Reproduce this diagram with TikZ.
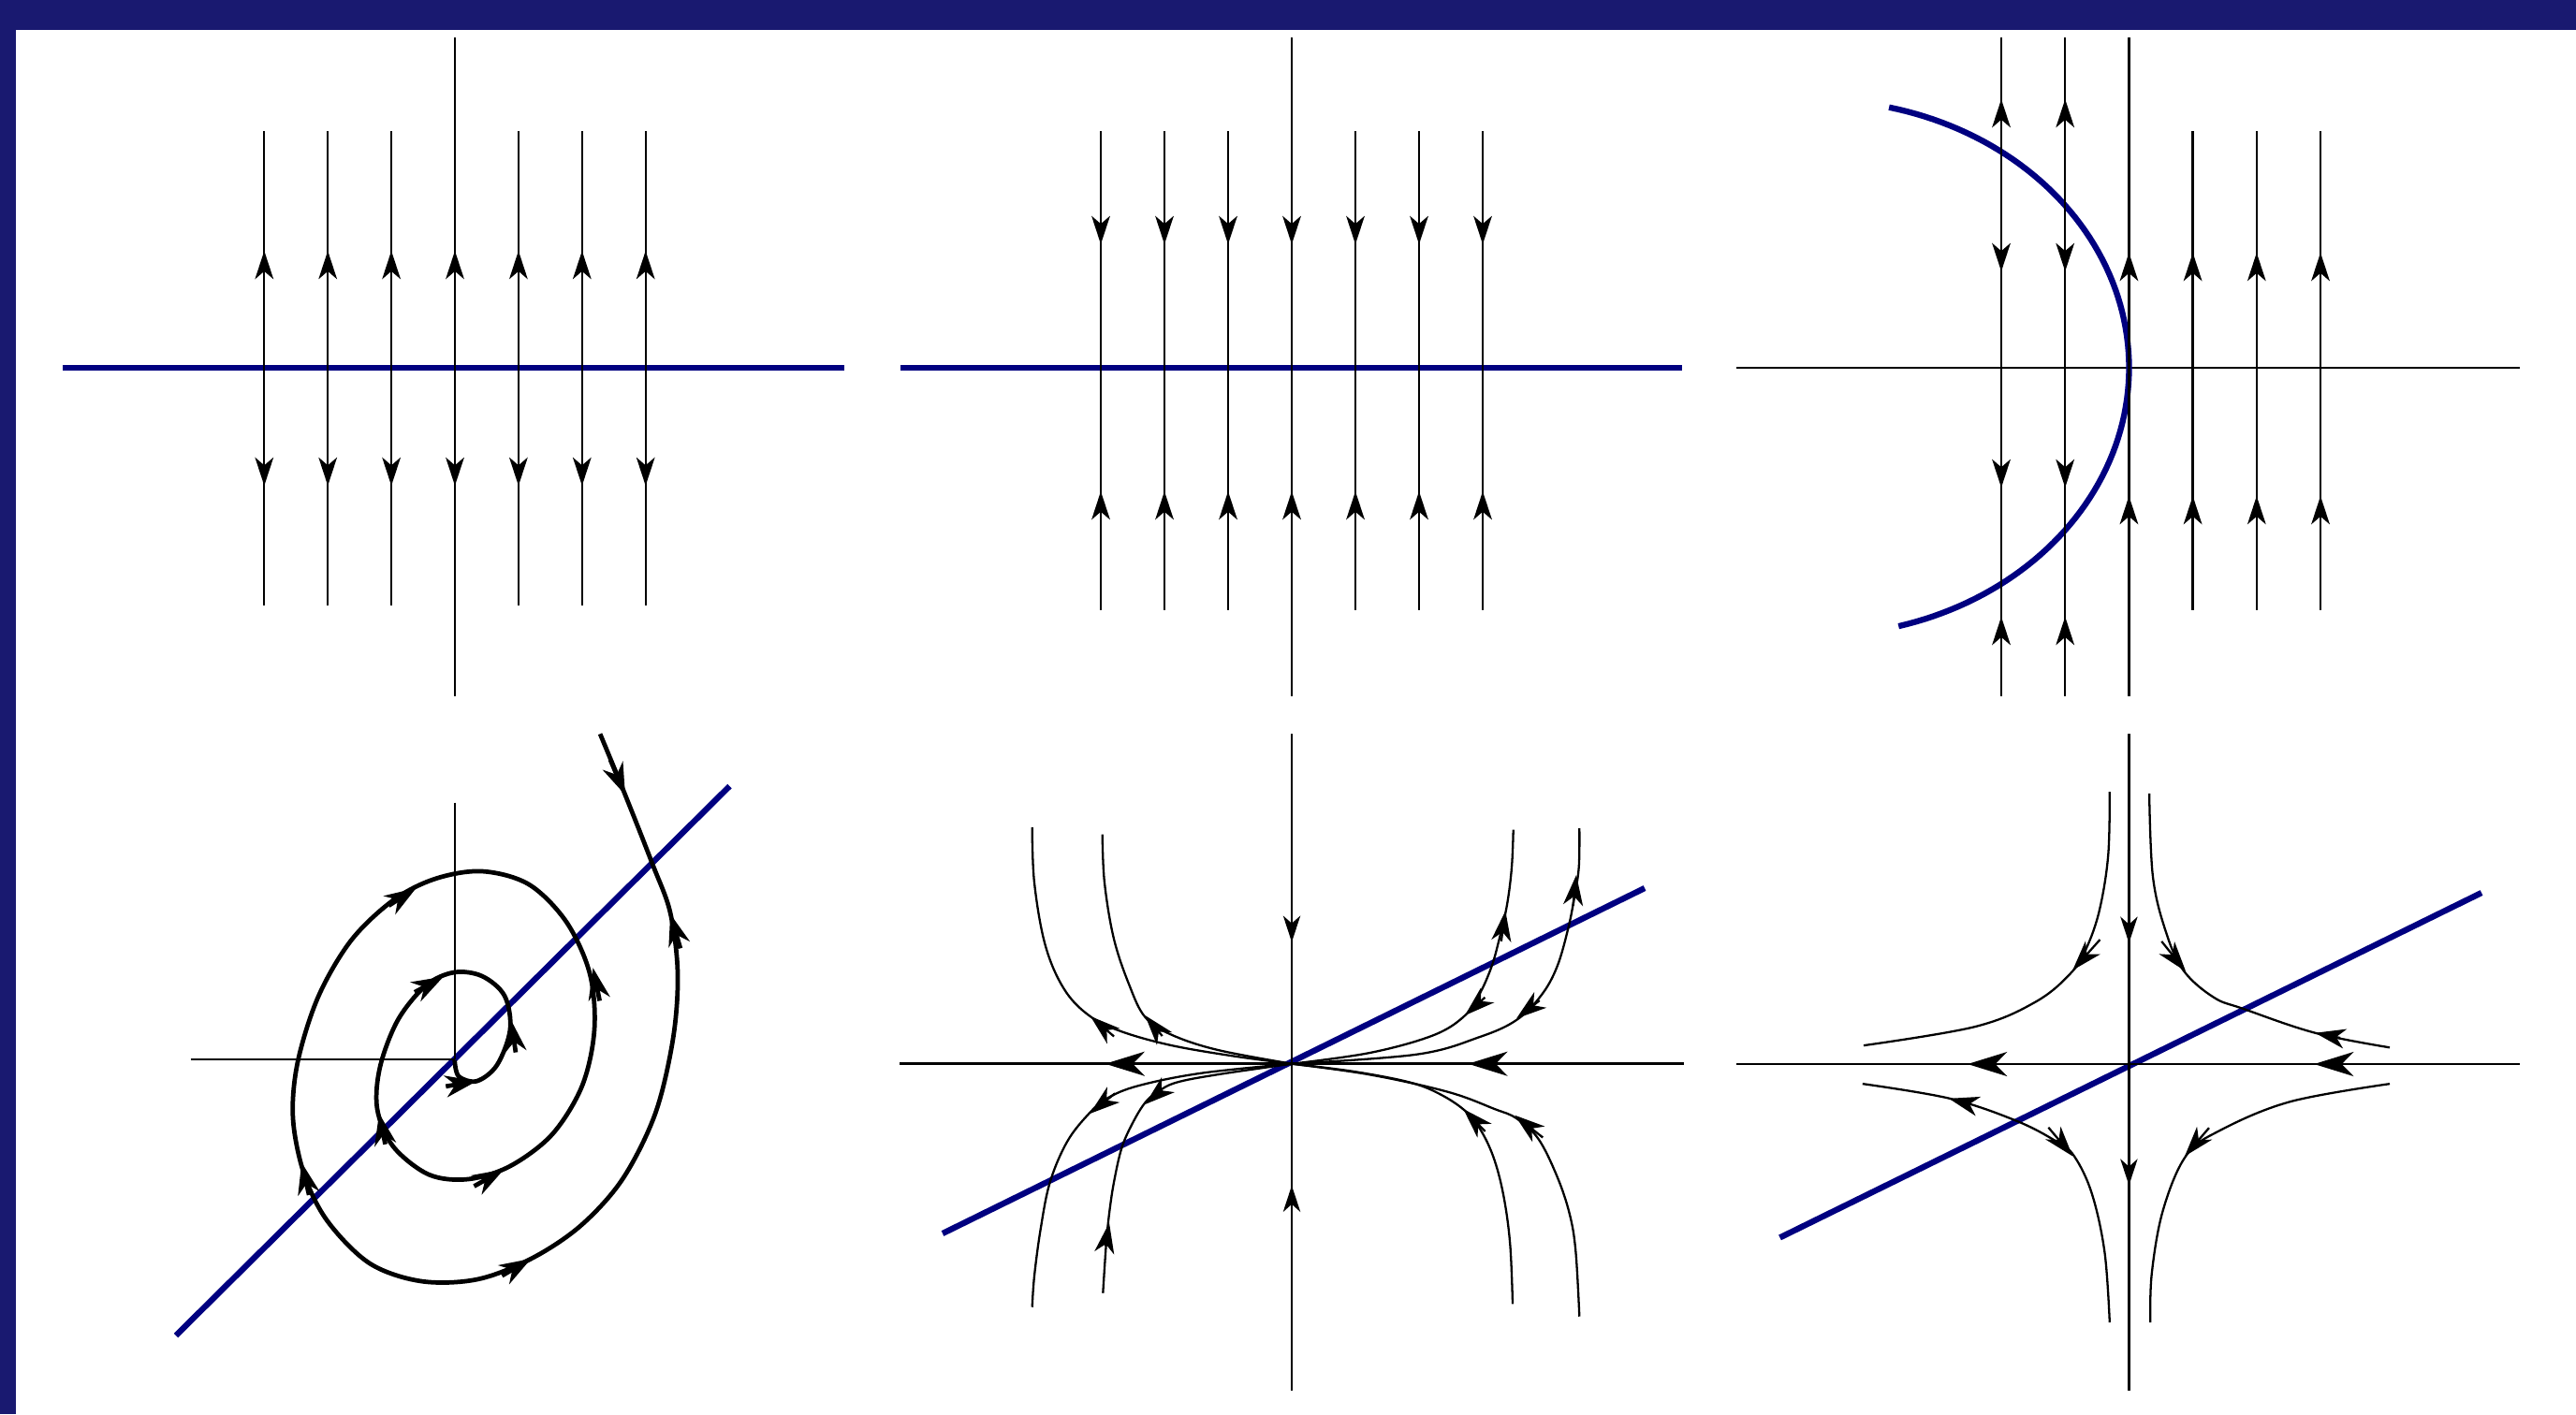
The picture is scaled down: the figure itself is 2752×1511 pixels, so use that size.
\documentclass[tikz,border=0pt]{standalone}
\usetikzlibrary{arrows.meta,calc}
\definecolor{frameblue}{RGB}{25,25,112}
\definecolor{lineblue}{RGB}{0,0,128}
\tikzset{
  traj/.style={line width=0.65pt, black},
  axisl/.style={line width=0.75pt, black},
  bluel/.style={line width=1.8pt, lineblue},
  spiral/.style={line width=1.35pt, black},
  arrA/.style={line width=0.65pt, -{Stealth[length=8.6pt,width=5.6pt,inset=2.4pt]}},
  arrV/.style={line width=0.75pt, -{Stealth[length=8pt,width=5.2pt,inset=2.3pt]}},
  arrH/.style={line width=0.75pt, -{Stealth[length=12pt,width=7.4pt,inset=3.6pt]}},
  arrC/.style={line width=0.65pt, -{Stealth[length=9.2pt,width=6pt,inset=2.7pt]}},
  arrS/.style={line width=1.35pt, -{Stealth[length=9.6pt,width=6.6pt,inset=3pt]}},
}
\newcommand{\headat}[3]{\draw[#1] ($(#2)-1.1*(#3)$) -- (#2);}
\begin{document}
\begin{tikzpicture}[x=0.01cm,y=-0.01cm]
\useasboundingbox (0,0) rectangle (2752,1511);
\fill[white] (0,0) rectangle (2752,1511);
\fill[frameblue] (0,0) rectangle (2752,32);
\fill[frameblue] (0,0) rectangle (17,1511);

% ---------- Panel 1 ----------
\draw[bluel] (67,393) -- (902,393);
\draw[axisl] (486,40) -- (486,744);
\foreach \k in {-3,...,3}{
  \pgfmathsetmacro\xx{486+67.9*\k}
  \draw[traj] (\xx,140) -- (\xx,647);
  \draw[arrA] (\xx,300) -- (\xx,268);
  \draw[arrA] (\xx,487) -- (\xx,519);
}

% ---------- Panel 2 ----------
\draw[bluel] (962,393) -- (1797,393);
\draw[axisl] (1380,40) -- (1380,744);
\foreach \k in {-3,...,3}{
  \pgfmathsetmacro\xx{1380+68*\k}
  \draw[traj] (\xx,140) -- (\xx,652);
  \draw[arrA] (\xx,229) -- (\xx,261);
  \draw[arrA] (\xx,557) -- (\xx,525);
}

% ---------- Panel 3 ----------
\draw[axisl] (1855,393) -- (2692,393);
\draw[bluel] plot[domain=-74.9:76.7, samples=90] ({1941.5+333*cos(\x)},{393-286*sin(\x)});
\draw[axisl] (2274.4,40) -- (2274.4,744);
\foreach \k in {-2,-1}{
  \pgfmathsetmacro\xx{2274.4+68.2*\k}
  \draw[traj] (\xx,40) -- (\xx,744);
  \draw[arrA] (\xx,138) -- (\xx,106);
  \draw[arrA] (\xx,258) -- (\xx,290);
  \draw[arrA] (\xx,489) -- (\xx,521);
  \draw[arrA] (\xx,691) -- (\xx,659);
}
\foreach \k in {0,...,3}{
  \pgfmathsetmacro\xx{2274.4+68.2*\k}
  \draw[traj] (\xx,140) -- (\xx,652);
  \draw[arrA] (\xx,302) -- (\xx,270);
  \draw[arrA] (\xx,562) -- (\xx,530);
}

% ---------- Panel 4 ----------
\draw[bluel] (188,1427) -- (779.5,840);
\draw[axisl] (486,857.7) -- (486,1132);
\draw[axisl] (203.6,1132) -- (486,1132);
\draw[spiral] plot[smooth, tension=0.55] coordinates {
 (485.7,1132.9) (490,1150) (509.4,1155.2) (531,1138) (545,1100)
 (539,1064) (515,1043) (485,1039) (455,1053) (425,1090) (406,1140)
 (403,1185) (420,1225) (458,1255) (500,1260) (545,1246) (590,1212)
 (622,1160) (635,1100) (630,1040) (605,985) (565,945) (515,931)
 (465,939) (420,962) (375,1005) (340,1065) (318,1135) (313,1195)
 (325,1255) (350,1305) (395,1350) (450,1369) (510,1367) (567.4,1345)
 (620,1310) (665,1260) (700,1190) (719,1110) (724,1040) (716,975)
 (696.9,922.9) (667.9,849.3) (641.1,784.2)};
\headat{arrS}{509.4,1155.2}{30.1,-5.1}
\headat{arrS}{546,1090.1}{-4.5,-31.3}
\headat{arrS}{473.7,1043.6}{27.9,-15.1}
\headat{arrS}{405,1189.7}{-6,-30}
\headat{arrS}{538.4,1249.5}{29,-16.4}
\headat{arrS}{633.5,1034.2}{-6.5,-32}
\headat{arrS}{444.6,948.9}{26.7,-17.1}
\headat{arrS}{322.2,1242.2}{-7.2,-31.5}
\headat{arrS}{567.4,1344.9}{28.3,-16.6}
\headat{arrS}{716.1,976.6}{-9.8,-33.4}
\headat{arrS}{667.9,849.3}{14.5,34.2}

% ---------- Panel 5 ----------
\draw[bluel] (1007,1318) -- (1757,949);
\draw[axisl] (1380,784) -- (1380,1486);
\draw[axisl] (961,1136.7) -- (1799,1136.7);
\draw[traj] plot[smooth, tension=0.6] coordinates {(1380,1136.7) (1316.7,1128.3) (1250,1116.7) (1196.7,1101.7) (1163.3,1085) (1136.7,1056.7) (1116.7,1010) (1105,943.3) (1102.7,884)};
\draw[traj] plot[smooth, tension=0.6] coordinates {(1380,1136.7) (1300,1121.7) (1250,1105) (1223.3,1086.7) (1206.7,1053.3) (1190,1003.3) (1180,943.3) (1177.7,891.7)};
\draw[traj] plot[smooth, tension=0.6] coordinates {(1380,1136.7) (1463.3,1125) (1530,1106.7) (1563.3,1086.7) (1580,1063.3) (1593.3,1033.3) (1601.7,1003.3) (1610,966.7) (1615,926.7) (1616.7,886.7)};
\draw[traj] plot[smooth, tension=0.6] coordinates {(1380,1136.7) (1513.3,1126.7) (1580,1108.3) (1620,1090) (1646.7,1063.3) (1663.3,1033.3) (1675,993.3) (1681.7,960) (1686.7,926.7) (1687.3,885)};
\draw[traj] plot[smooth, tension=0.6] coordinates {(1380,1136.7) (1283.3,1146.7) (1216.7,1160) (1183.3,1173.3) (1163.3,1190) (1140,1220) (1121.7,1263.3) (1111.7,1313.3) (1105,1363.3) (1102.7,1396.7)};
\draw[traj] plot[smooth, tension=0.6] coordinates {(1380,1136.7) (1300,1148.3) (1256.7,1156.7) (1236.7,1166.7) (1223.3,1178.3) (1210,1200) (1198.3,1226.7) (1190,1263.3) (1185,1296.7) (1181.7,1330) (1178.3,1381.7)};
\draw[traj] plot[smooth, tension=0.6] coordinates {(1380,1136.7) (1446.7,1145) (1506.7,1156.7) (1540,1170) (1566.7,1188.3) (1583.3,1210) (1596.7,1240) (1606.7,1280) (1613.3,1330) (1616,1393.3)};
\draw[traj] plot[smooth, tension=0.6] coordinates {(1380,1136.7) (1463.3,1148.3) (1546.7,1166.7) (1596.7,1185) (1620,1195) (1643.3,1216.7) (1663.3,1256.7) (1676.7,1296.7) (1683.3,1336.7) (1687.3,1406.7)};
\headat{arrH}{1180.7,1136.7}{-40,0}
\headat{arrH}{1568.3,1136.7}{-40,0}
\headat{arrV}{1380,1006.7}{0,25}
\headat{arrV}{1380,1266.7}{0,-25}
\headat{arrC}{1165,1086}{-22.8,-19.5}
\headat{arrC}{1223.3,1085}{-16.7,-20}
\headat{arrC}{1608.3,973.3}{4.1,-29.5}
\headat{arrC}{1565,1085}{-19.5,17.5}
\headat{arrC}{1684,935}{3.2,-30}
\headat{arrC}{1620,1088.3}{-22.5,17.5}
\headat{arrC}{1164.3,1190}{-24.4,19.7}
\headat{arrC}{1223.3,1180}{-16.7,14.2}
\headat{arrC}{1185,1306.7}{3.7,-22.5}
\headat{arrC}{1563.3,1185}{-21.2,-21.7}
\headat{arrC}{1618.3,1191.7}{-27.2,-21.6}

% ---------- Panel 6 ----------
\draw[bluel] (1901.5,1322.4) -- (2651,954);
\draw[axisl] (2274.4,784) -- (2274.4,1486);
\draw[axisl] (1855,1137) -- (2692,1137);
\draw[traj] plot[smooth, tension=0.6] coordinates {(2253.8,846.1) (2252.2,913.9) (2243,972) (2229.4,1012.1) (2213.1,1038.9) (2175.2,1070.2) (2110.2,1097) (1990.9,1117.1)};
\draw[traj] plot[smooth, tension=0.6] coordinates {(2296.1,847.9) (2299.9,936.3) (2313.4,994.3) (2332.4,1036.7) (2364.9,1065.7) (2397.4,1078.2) (2473.3,1103.7) (2553,1119.3)};
\draw[traj] plot[smooth, tension=0.6] coordinates {(1989.8,1158.1) (2083,1173.8) (2153.5,1197.4) (2196.9,1219.7) (2215.9,1235.4) (2234.8,1275.5) (2248.4,1338) (2253.8,1413)};
\draw[traj] plot[smooth, tension=0.6] coordinates {(2553,1158.1) (2446.2,1177.3) (2370.3,1208.6) (2335.1,1235.4) (2310.7,1293.4) (2298.8,1360.4) (2297.2,1413)};
\headat{arrH}{2102,1137}{-40,0}
\headat{arrH}{2472.2,1137}{-40,0}
\headat{arrV}{2274.4,1007.7}{0,25}
\headat{arrV}{2274.4,1266.6}{0,25}
\headat{arrC}{2214.2,1036.7}{-26.6,29.7}
\headat{arrC}{2335.1,1038}{23.5,29.2}
\headat{arrC}{2473.3,1103.7}{-24.4,-4.8}
\headat{arrC}{2082,1173.8}{-21.4,-5.7}
\headat{arrC}{2214.2,1235.4}{23.5,27.9}
\headat{arrC}{2334,1235.4}{-23.6,27.5}
\end{tikzpicture}
\end{document}
